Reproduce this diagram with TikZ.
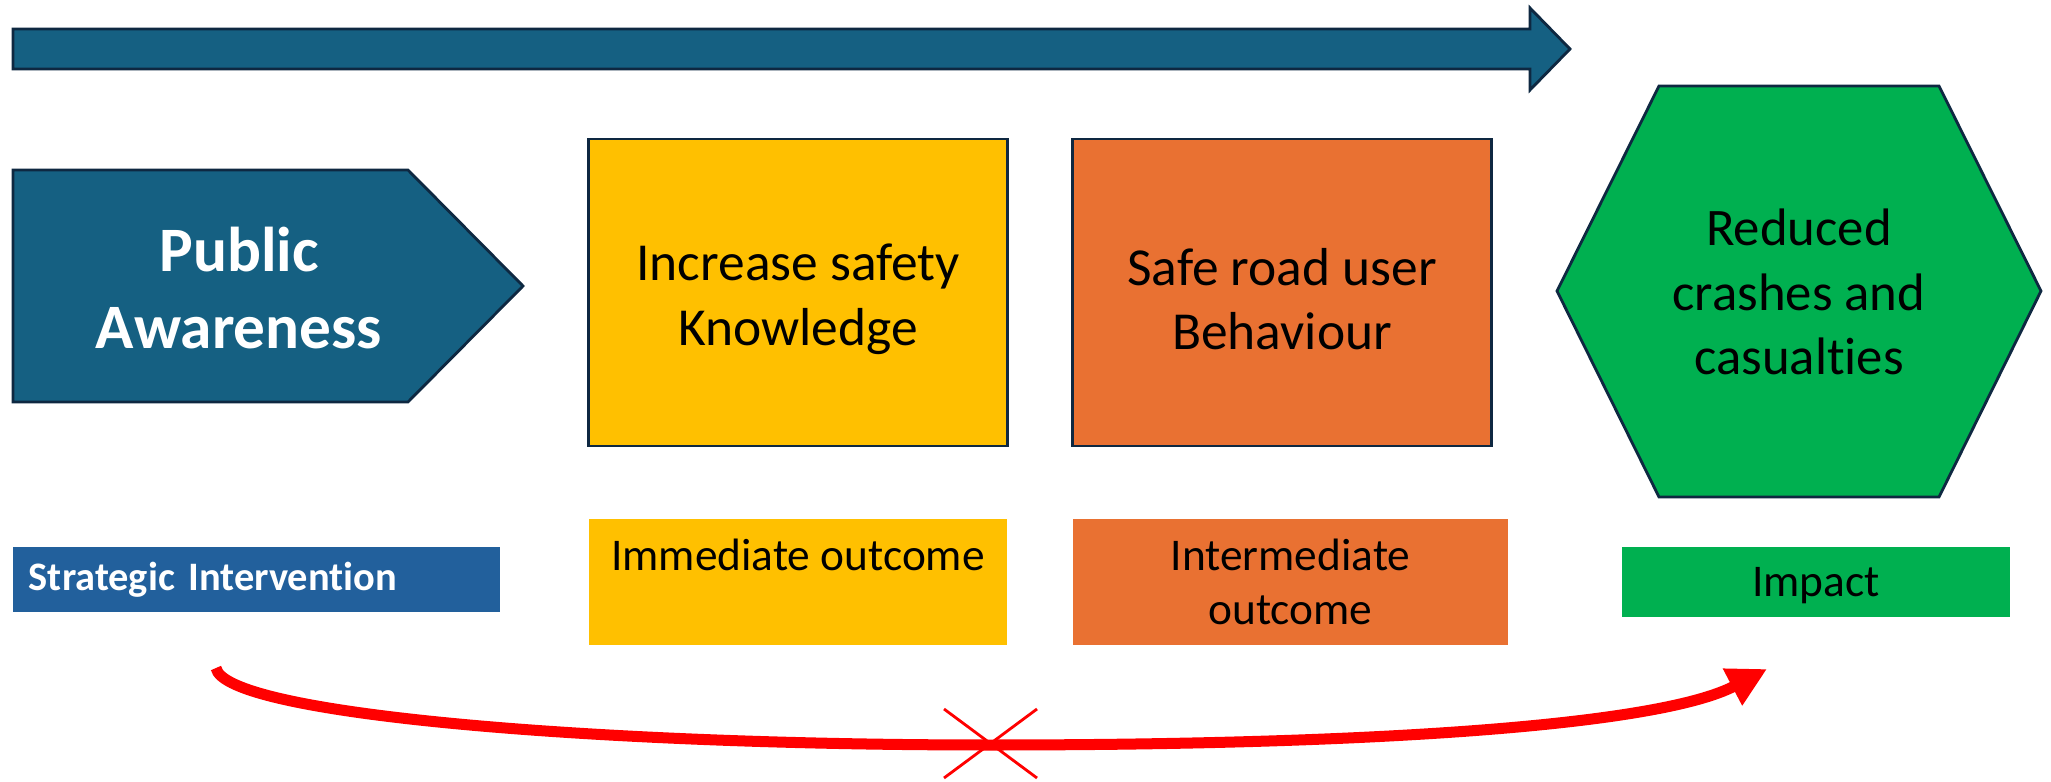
\documentclass[tikz,border=0pt]{standalone}
\usepackage{fontspec}
\setmainfont{Carlito}[Ligatures=NoCommon]
\usetikzlibrary{arrows.meta}

\definecolor{flowteal}{HTML}{156082}
\definecolor{edgenavy}{HTML}{0E2841}
\definecolor{stratblue}{HTML}{22609C}
\definecolor{knowyellow}{HTML}{FFC000}
\definecolor{behavorange}{HTML}{E97132}
\definecolor{impactgreen}{HTML}{00B050}

\tikzset{
  stage/.style={draw=edgenavy, line width=0.8pt, minimum width=4.18cm,
    minimum height=3.07cm},
  stagetext/.style={align=center, font=\fontsize{15.2}{18.3}\selectfont},
  tag/.style={inner sep=0pt, minimum height=1.26cm, align=center,
    font=\fontsize{12.9}{15.4}\selectfont}
}

\begin{document}
\begin{tikzpicture}[x=0.01cm, y=-0.01cm]
    \useasboundingbox (0,0) rectangle (2051,782);

    % Long arrow on top
    \filldraw[fill=flowteal, draw=edgenavy, line width=0.8pt]
        (13,29) -- (1530,29) -- (1530,8) -- (1570,49) -- (1530,90)
        -- (1530,69) -- (13,69) -- cycle;

    % Intervention
    \filldraw[fill=flowteal, draw=edgenavy, line width=0.8pt]
        (13,170) -- (408,170) -- (523,286) -- (408,402) -- (13,402) -- cycle;
    \node[text=white, align=center, font=\bfseries\fontsize{18}{22}\selectfont]
        (aware) at (239,288) {Public\\Awareness};

    % Outcomes
    \node[stage, fill=knowyellow] (know) at (798,292.5) {};
    \node[stagetext] (knowtext) at ([yshift=-1.9pt]know.center) {Increase safety\\Knowledge};
    \node[stage, fill=behavorange] (behav) at (1282,292.5) {};
    \node[stagetext] (behavtext) at ([yshift=-1.9pt]behav.center) {Safe road user\\Behaviour};

    % Impact
    \filldraw[fill=impactgreen, draw=edgenavy, line width=0.8pt]
        (1557,291) -- (1659,86) -- (1939,86) -- (2041,291) -- (1939,497)
        -- (1659,497) -- cycle;
    \node[stagetext, font=\fontsize{15}{18.3}\selectfont]
        (crash) at (1799,292) {Reduced\\crashes and\\casualties};

    % Labels underneath
    \node[tag, fill=stratblue, text=white, minimum width=4.87cm, minimum height=0.65cm,
        text width=4.55cm, text height=8.8pt, text depth=2.4pt, align=left,
        font=\bfseries\fontsize{11.5}{14}\selectfont]
        (strat) at (256.5,579.5) {Strategic Intervention};
    \node[tag, fill=knowyellow, minimum width=4.18cm] (imm) at (798,582)
        {Immediate outcome\\\mbox{}};
    \node[tag, fill=behavorange, minimum width=4.35cm] (inter) at (1290.5,582)
        {Intermediate\\outcome};
    \node[tag, fill=impactgreen, minimum width=3.88cm, minimum height=0.70cm,
        text height=11pt, text depth=2.7pt]
        (imp) at (1816,582) {Impact};

    % Direct jump, crossed out
    \coordinate (from) at (216,668);
    \coordinate (to) at (1767,669);
    \draw[red, line width=0.11cm, -{Triangle[length=0.39cm, width=0.39cm]}]
        (from) .. controls (225,715) and (600,745) .. (990,745)
        .. controls (1380,745) and (1660,725) .. (to);
    \draw[red, line width=0.8pt] (944,709) -- (1037,778);
    \draw[red, line width=0.8pt] (1037,709) -- (944,778);

\end{tikzpicture}
\end{document}
